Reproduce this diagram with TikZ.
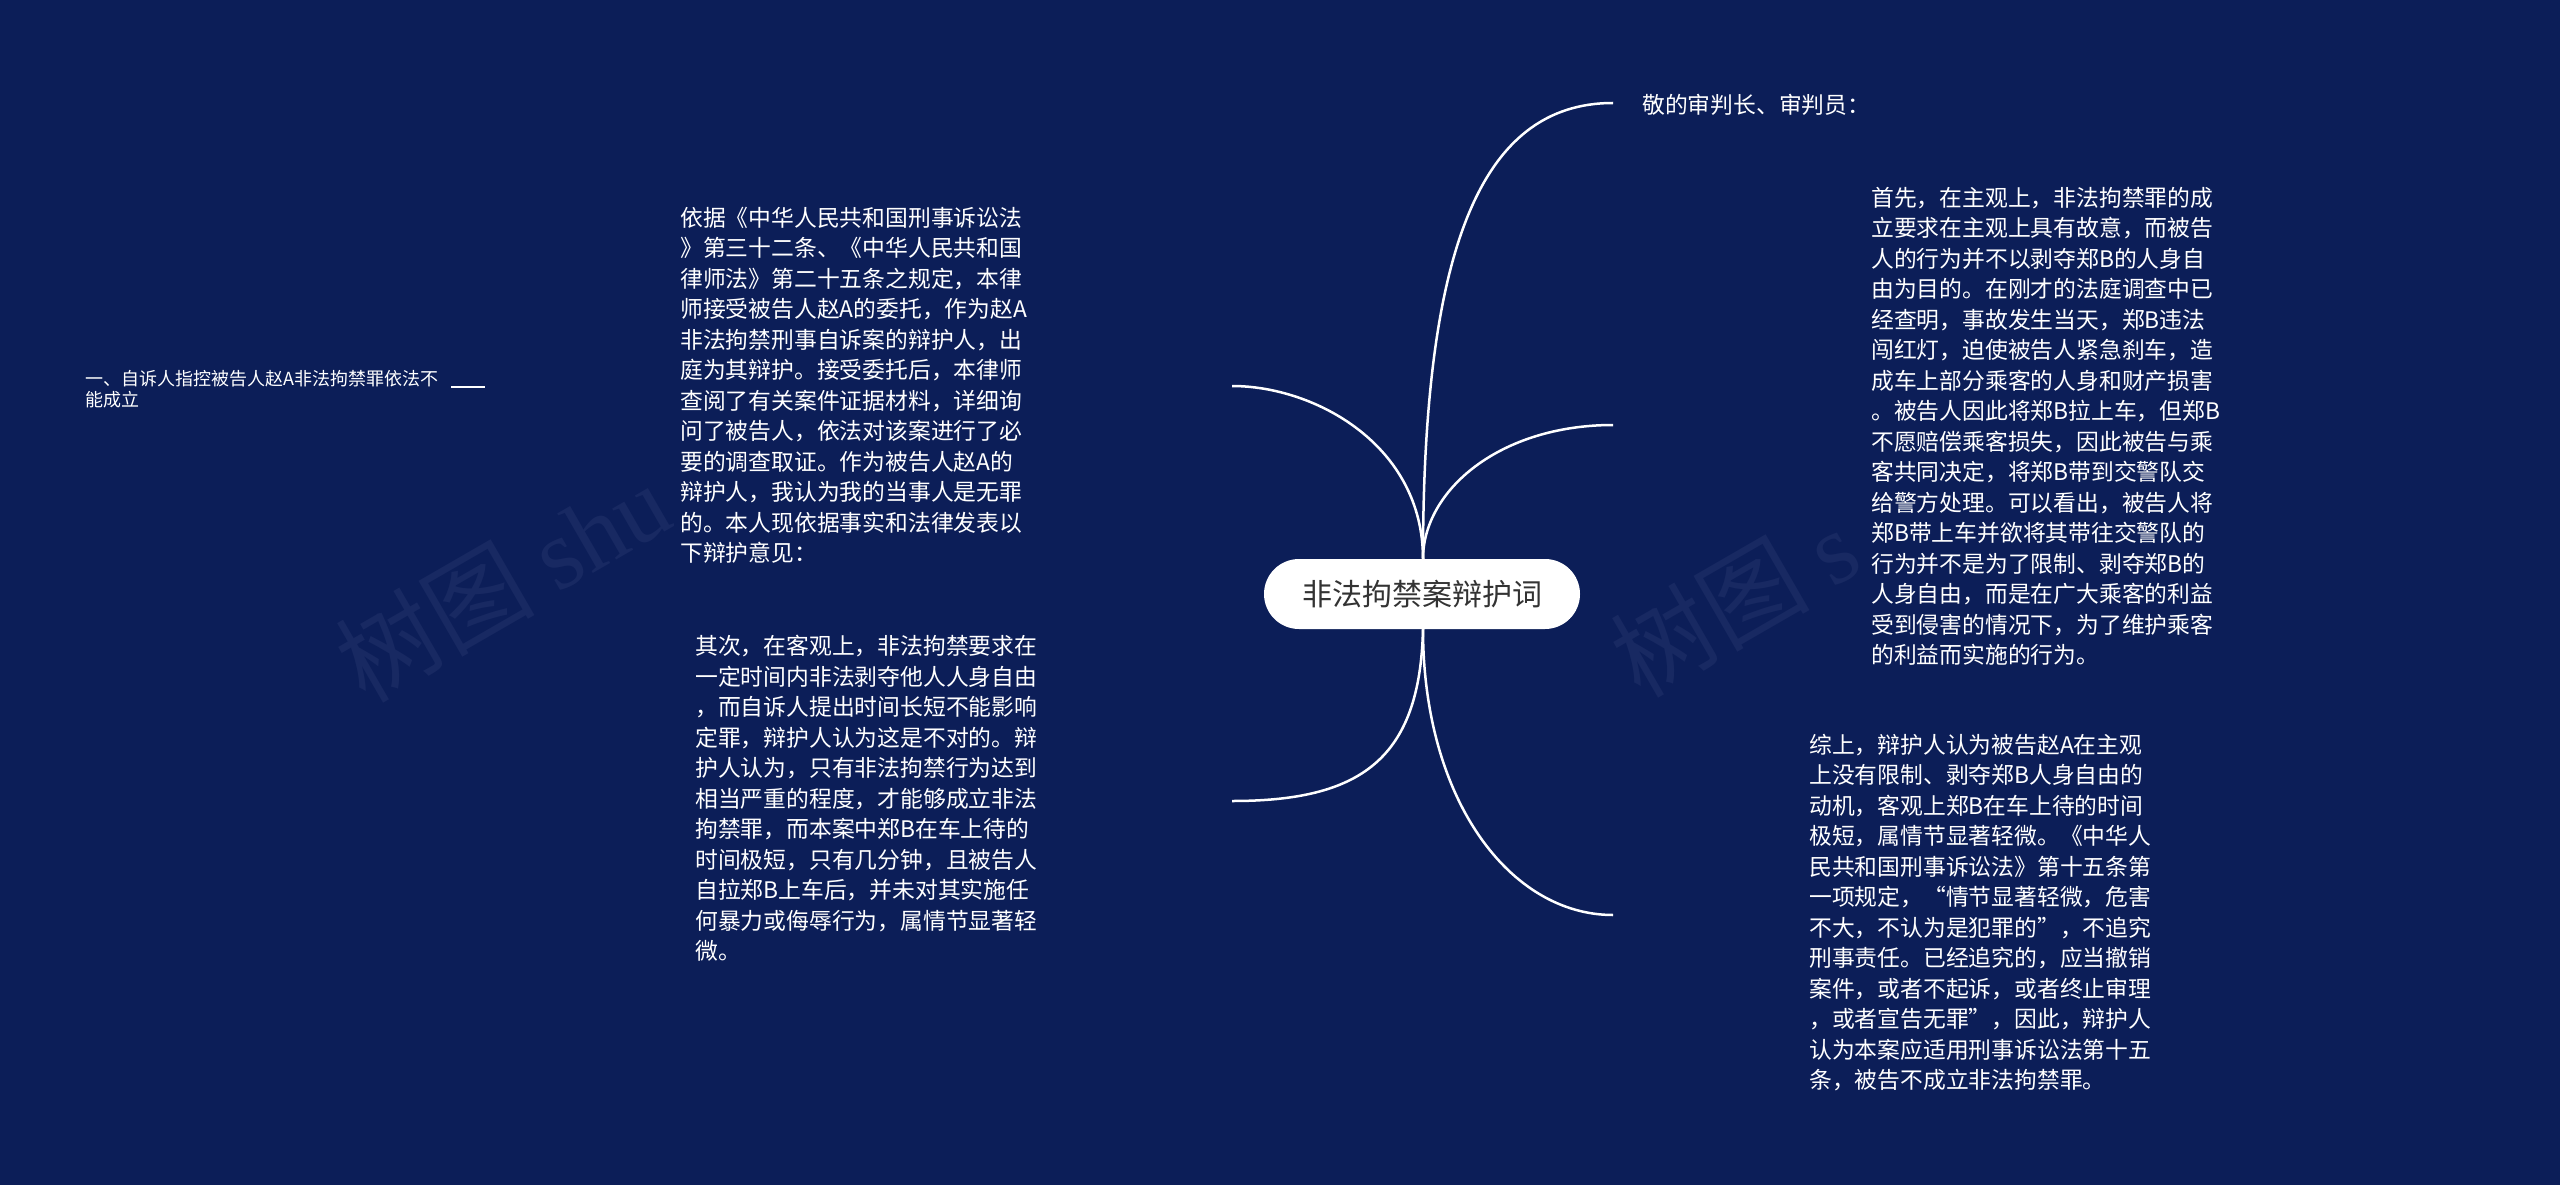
\documentclass[tikz,border=0pt]{standalone}
\usepackage{fontspec}
\setmainfont{Noto Sans CJK SC}
\newfontfamily\wmlat{Liberation Serif}
\definecolor{bg}{RGB}{12,30,88}
\definecolor{wmcol}{RGB}{24,41,98}
\definecolor{rootink}{RGB}{51,51,51}
\begin{document}
\begin{tikzpicture}[x=1pt,y=-1pt,
  txt/.style={anchor=north west, align=left, text=white, fill=bg, inner sep=6pt,
    font=\fontsize{22.8}{30.5}\selectfont},
  branch/.style={draw=white, line width=2.5pt},
  wm/.style={rotate=30, anchor=base west, text=wmcol, inner sep=0pt,
    font=\fontsize{100}{100}\selectfont}]
\fill[bg] (0,0) rectangle (2560,1185);
\useasboundingbox (0,0) rectangle (2560,1185);

% watermarks (partly hidden behind the text boxes)
\node[wm] (wm1) at (365,705) {树图 {\wmlat shu}};
\node[wm] (wm2) at (1640,700) {树图 {\wmlat s}};

% branch ends
\coordinate (eA) at (1613,103);
\coordinate (eB) at (1613,425);
\coordinate (eC) at (1613,915);
\coordinate (eD) at (1232,386);
\coordinate (eE) at (1232,801);

\coordinate (rc) at (1422,594);
\coordinate (rn) at (1423,559);
\coordinate (rs) at (1423,629);

\draw[branch] (rn) .. controls (1423,250) and (1480,103) .. (eA);
\draw[branch] (rn) .. controls (1423,490) and (1500,425) .. (eB);
\draw[branch] (rs) .. controls (1423,800) and (1510,915) .. (eC);
\draw[branch] (rn) .. controls (1423,445) and (1315,386) .. (eD);
\draw[branch] (rs) .. controls (1420,760) and (1360,801) .. (eE);

\node[fill=white, rounded corners=35pt, minimum width=316pt, minimum height=70pt,
  inner sep=0pt, text=rootink, font=\fontsize{30}{30}\selectfont] (root) at (rc) {非法拘禁案辩护词};

% top right
\node[txt] (t1) at (1636,88) {敬的审判长、审判员：};

% left top
\node[txt] (lt) at (674,201) {依据《中华人民共和国刑事诉讼法\\
》第三十二条、《中华人民共和国\\
律师法》第二十五条之规定，本律\\
师接受被告人赵A的委托，作为赵A\\
非法拘禁刑事自诉案的辩护人，出\\
庭为其辩护。接受委托后，本律师\\
查阅了有关案件证据材料，详细询\\
问了被告人，依法对该案进行了必\\
要的调查取证。作为被告人赵A的\\
辩护人，我认为我的当事人是无罪\\
的。本人现依据事实和法律发表以\\
下辩护意见：};

% left bottom
\node[txt] (lb) at (689,629) {其次，在客观上，非法拘禁要求在\\
一定时间内非法剥夺他人人身自由\\
，而自诉人提出时间长短不能影响\\
定罪，辩护人认为这是不对的。辩\\
护人认为，只有非法拘禁行为达到\\
相当严重的程度，才能够成立非法\\
拘禁罪，而本案中郑B在车上待的\\
时间极短，只有几分钟，且被告人\\
自拉郑B上车后，并未对其实施任\\
何暴力或侮辱行为，属情节显著轻\\
微。};

% right top
\node[txt, inner xsep=12pt] (rt) at (1859,181) {首先，在主观上，非法拘禁罪的成\\
立要求在主观上具有故意，而被告\\
人的行为并不以剥夺郑B的人身自\\
由为目的。在刚才的法庭调查中已\\
经查明，事故发生当天，郑B违法\\
闯红灯，迫使被告人紧急刹车，造\\
成车上部分乘客的人身和财产损害\\
。被告人因此将郑B拉上车，但郑B\\
不愿赔偿乘客损失，因此被告与乘\\
客共同决定，将郑B带到交警队交\\
给警方处理。可以看出，被告人将\\
郑B带上车并欲将其带往交警队的\\
行为并不是为了限制、剥夺郑B的\\
人身自由，而是在广大乘客的利益\\
受到侵害的情况下，为了维护乘客\\
的利益而实施的行为。};

% right bottom
\node[txt] (rb) at (1803,728) {综上，辩护人认为被告赵A在主观\\
上没有限制、剥夺郑B人身自由的\\
动机，客观上郑B在车上待的时间\\
极短，属情节显著轻微。《中华人\\
民共和国刑事诉讼法》第十五条第\\
一项规定，“情节显著轻微，危害\\
不大，不认为是犯罪的”，不追究\\
刑事责任。已经追究的，应当撤销\\
案件，或者不起诉，或者终止审理\\
，或者宣告无罪”，因此，辩护人\\
认为本案应适用刑事诉讼法第十五\\
条，被告不成立非法拘禁罪。};

% small left node
\node[anchor=north west, align=left, text=white, inner sep=0pt,
  font=\fontsize{18}{21}\selectfont] (sl) at (85,370) {一、自诉人指控被告人赵A非法拘禁罪依法不\\能成立};
\coordinate (s1) at (451,387);
\coordinate (s2) at (485,387);
\draw[white, line width=2.5pt] (s1) -- (s2);
\end{tikzpicture}
\end{document}
